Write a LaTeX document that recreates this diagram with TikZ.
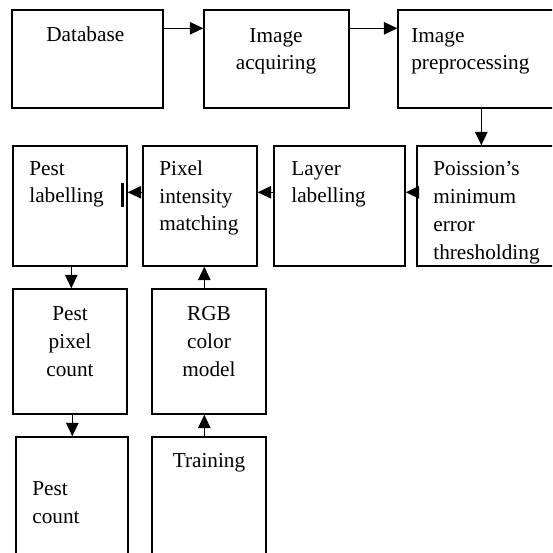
\documentclass[tikz,border=0pt]{standalone}
\usepackage{fontspec}
\setmainfont{Liberation Serif}
\usetikzlibrary{arrows.meta,fit,calc}

\begin{document}
\begin{tikzpicture}[x=0.02cm,y=-0.02cm,
    box/.style={draw,line width=0.8pt,inner sep=0pt},
    txt/.style={inner sep=0pt,font=\fontsize{12.1}{15.9}\selectfont},
    lt/.style={txt,align=left,anchor=base west},
    ct/.style={txt,align=center,anchor=base},
    arr/.style={line width=0.8pt,-{Triangle[length=0.27cm,width=0.25cm]}}]
  \useasboundingbox (0,0) rectangle (552,553);
  \clip (0,0) rectangle (552,553);

  % first row (text placed by the baseline of its last line)
  \node[box,fit={(12,10) (163,108)}] (db) {};
  \node[box,fit={(204,10) (349,108)}] (acq) {};
  \node[box,fit={(398,10) (580,108)}] (pre) {};
  \node[lt] (dbtxt) at (46,42) {Database};
  \node[ct] (acqtxt) at (276,70) {Image\\acquiring};
  \node[lt] (pretxt) at (411,70) {Image\\preprocessing};

  % second row, read right to left
  \node[box,fit={(13,146) (127,266)}] (plab) {};
  \node[box,fit={(143,146) (257,266)}] (pim) {};
  \node[box,fit={(274,146) (405,266)}] (llab) {};
  \node[box,fit={(417,146) (580,266)}] (pois) {};
  \node[lt] (plabtxt) at (29,203) {Pest\\labelling};
  \node[lt] (pimtxt) at (159,231) {Pixel\\intensity\\matching};
  \node[lt] (llabtxt) at (291,203) {Layer\\labelling};
  \node[lt] (poistxt) at (433,259) {Poission’s\\minimum\\error\\thresholding};

  % lower columns
  \node[box,fit={(13,289) (127,414)}] (ppc) {};
  \node[box,fit={(152,289) (266,414)}] (rgb) {};
  \node[box,fit={(16,437) (128,580)}] (pc) {};
  \node[box,fit={(152,437) (266,580)}] (trn) {};
  \node[ct] (ppctxt) at (70,376) {Pest\\pixel\\count};
  \node[ct] (rgbtxt) at (209,376) {RGB\\color\\model};
  \node[lt] (pctxt) at (32,523) {Pest\\count};
  \node[ct] (trntxt) at (209,467) {Training};

  % connectors
  \draw[arr] ($(db.north east)+(0,19)$) -- ($(acq.north west)+(0,19)$);
  \draw[arr] ($(acq.north east)+(0,19)$) -- ($(pre.north west)+(0,19)$);
  \draw[arr] ($(pre.south west)+(84,0)$) -- ($(pois.north west)+(65,0)$);
  \draw[arr] ($(pois.north west)+(0,47)$) -- ($(llab.north east)+(0,47)$);
  \draw[arr] ($(llab.north west)+(0,47)$) -- ($(pim.north east)+(0,47)$);
  \draw[arr] ($(pim.north west)+(0,47)$) -- ($(plab.north east)+(0,47)$);
  \draw[line width=1.6pt] ($(plab.north east)+(-5,38)$) -- ($(plab.north east)+(-5,62)$);
  \draw[arr] ($(plab.south west)+(59,0)$) -- ($(ppc.north west)+(59,0)$);
  \draw[arr] ($(ppc.south west)+(60,0)$) -- ($(pc.north west)+(57,0)$);
  \draw[arr] ($(rgb.north west)+(53,0)$) -- ($(pim.south west)+(62,0)$);
  \draw[arr] ($(trn.north west)+(53,0)$) -- ($(rgb.south west)+(53,0)$);
\end{tikzpicture}
\end{document}
